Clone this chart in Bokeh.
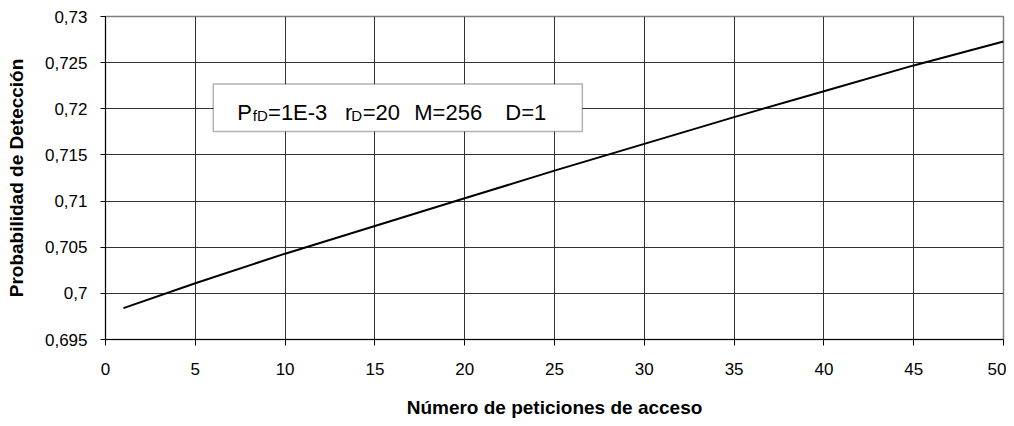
from bokeh.plotting import figure
from bokeh.models import (FixedTicker, CustomJSTickFormatter, BoxAnnotation, Label, Range1d)
from bokeh.embed import file_html
from bokeh.resources import INLINE

# ---- data ----
peticiones = [1, 5, 10, 15, 20, 25, 30, 35, 40, 45, 50]
prob_deteccion = [0.6984, 0.7011, 0.7043, 0.7073, 0.7103, 0.7133, 0.7162, 0.7191, 0.7219, 0.7247, 0.7273]

x_ticks = [0, 5, 10, 15, 20, 25, 30, 35, 40, 45, 50]
y_ticks = [0.695, 0.70, 0.705, 0.71, 0.715, 0.72, 0.725, 0.73]
y_tick_labels = ["0,695", "0,7", "0,705", "0,71", "0,715", "0,72", "0,725", "0,73"]

x_title = "Número de peticiones de acceso"
y_title = "Probabilidad de Detección"

FONT = "Liberation Sans"

p = figure(width=1006, height=420, output_backend="svg", toolbar_location=None,
           x_range=Range1d(0, 50), y_range=Range1d(0.695, 0.73),
           min_border_left=105, min_border_right=3, min_border_top=16, min_border_bottom=77)
p.background_fill_color = "white"
p.border_fill_color = "white"
p.outline_line_color = "#808080"
p.outline_line_width = 1.5

p.line(peticiones, prob_deteccion, line_color="black", line_width=2)

# axes
p.xaxis.ticker = FixedTicker(ticks=x_ticks)
p.yaxis.ticker = FixedTicker(ticks=y_ticks)
p.yaxis.formatter = CustomJSTickFormatter(args=dict(vals=y_ticks, labs=y_tick_labels), code="""
    let best = 0, bd = 1e9;
    for (let i = 0; i < vals.length; i++) { const d = Math.abs(vals[i] - tick); if (d < bd) { bd = d; best = i; } }
    return labs[best];
""")
for ax in (p.xaxis[0], p.yaxis[0]):
    ax.axis_line_color = "black"
    ax.axis_line_width = 1
    ax.major_tick_line_color = "black"
    ax.major_tick_in = 0
    ax.minor_tick_line_color = None
    ax.major_label_text_font = FONT
    ax.major_label_text_font_size = "17px"
    ax.major_label_text_color = "black"
    ax.axis_label_text_font = FONT
    ax.axis_label_text_font_size = "19px"
    ax.axis_label_text_font_style = "bold"
    ax.axis_label_text_color = "black"

p.xaxis.major_tick_out = 6
p.yaxis.major_tick_out = 5
p.xaxis.major_label_standoff = 17
p.yaxis.major_label_standoff = 13
p.xaxis.axis_label = x_title
p.yaxis.axis_label = y_title
p.xaxis.axis_label_standoff = 19
p.yaxis.axis_label_standoff = 15

p.xgrid.ticker = FixedTicker(ticks=x_ticks)
p.ygrid.ticker = FixedTicker(ticks=y_ticks)
p.xgrid.grid_line_color = "#333333"
p.ygrid.grid_line_color = "#333333"
p.xgrid.grid_line_width = 1
p.ygrid.grid_line_width = 1

# annotation box
box = BoxAnnotation(left=6.0, right=26.55, top=0.72269, bottom=0.71755,
                    fill_color="white", fill_alpha=1.0, line_color="black", line_width=1.5)
p.add_layout(box)

main_y = 0.71959
sub_y = 0.71932
tokens = [
    ("P", 7.33, main_y, "22px"),
    ("fD", 8.20, sub_y, "15px"),
    ("=1E-3", 9.05, main_y, "22px"),
    ("r", 13.34, main_y, "22px"),
    ("D", 13.68, sub_y, "15px"),
    ("=20", 14.32, main_y, "22px"),
    ("M=256", 17.19, main_y, "22px"),
    ("D=1", 22.26, main_y, "22px"),
]
for txt, xx, yy, fs in tokens:
    p.add_layout(Label(x=xx, y=yy, text=txt, text_font=FONT, text_font_size=fs,
                       text_color="black", text_baseline="alphabetic", text_align="left"))

open("out.html", "w").write(file_html(p, INLINE))
